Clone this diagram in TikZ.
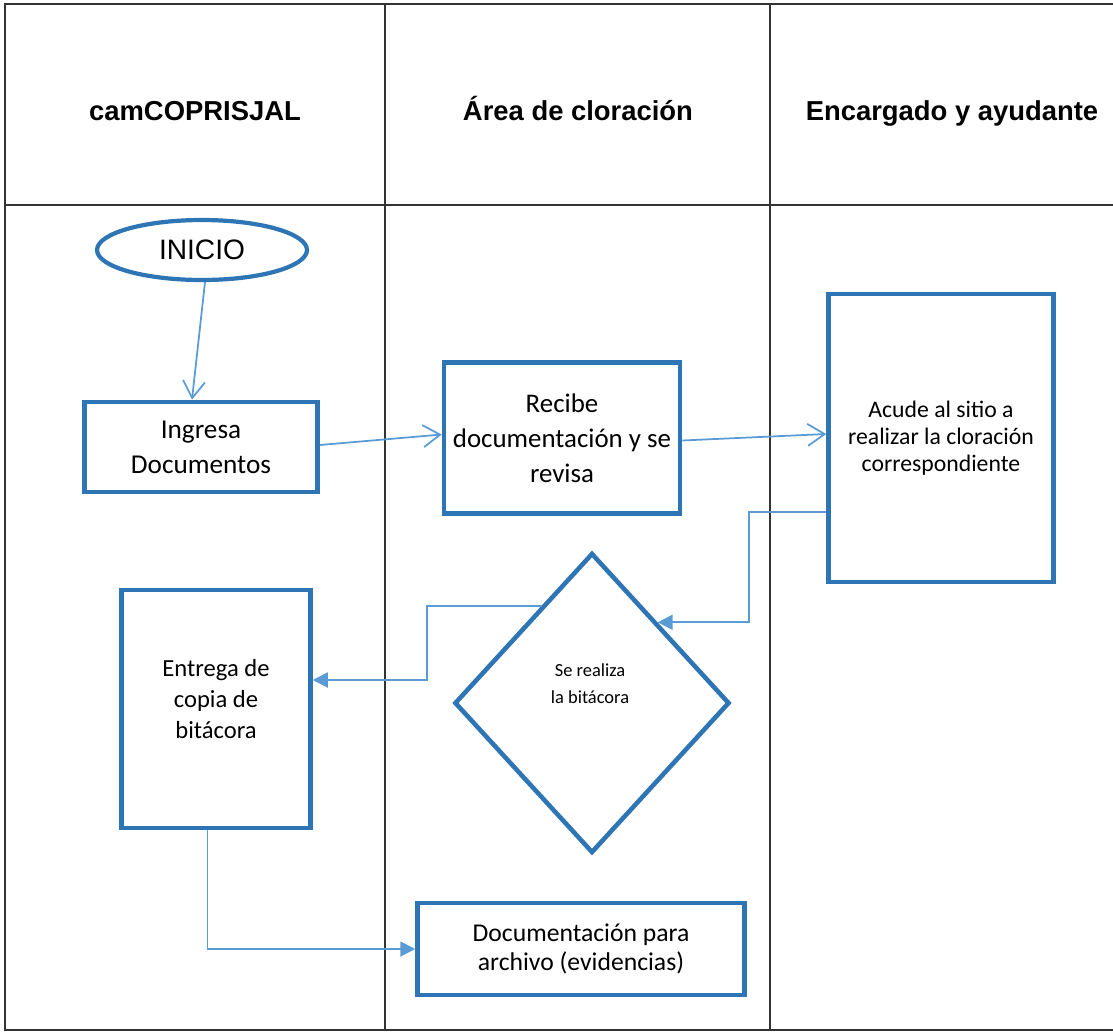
\documentclass[tikz,border=0pt]{standalone}
\usepackage{fontspec}
\setmainfont{Carlito}
\newfontfamily\headfont{Liberation Sans}
\usepackage{tikz}
\usetikzlibrary{shapes.geometric,arrows.meta,positioning,calc}

\definecolor{boxblue}{HTML}{2E75B6}
\definecolor{lineblue}{HTML}{5B9BD5}
\definecolor{gridgray}{HTML}{333333}

\tikzset{
  lane/.style={draw=gridgray, line width=0.8pt},
  lanehead/.style={anchor=base, font=\headfont\bfseries\fontsize{15.6}{19}\selectfont},
  procbox/.style={draw=boxblue, line width=2.6pt, fill=white, align=center, inner sep=0pt},
  flowopen/.style={draw=lineblue, line width=1pt, -{Straight Barb[length=3.4mm,width=4.4mm]}},
  flowfill/.style={draw=lineblue, line width=1.1pt, -{Triangle[length=3mm,width=3mm]}},
}

\begin{document}
\begin{tikzpicture}[x=0.02cm, y=-0.02cm]
    \useasboundingbox (0,0) rectangle (1113,1035);

    % swimlane table
    \draw[lane] (1113,4) -- (5,4) -- (5,1030) -- (1113,1030);
    \draw[lane] (5,205) -- (1113,205);
    \draw[lane] (385,4) -- (385,1030);
    \draw[lane] (770,4) -- (770,1030);

    % lane titles
    \node[lanehead] (h1) at (195,120) {camCOPRISJAL};
    \node[lanehead] (h2) at (578,120) {Área de cloración};
    \node[lanehead] (h3) at (952,120) {Encargado y ayudante};

    % start
    \node[ellipse, draw=boxblue, line width=2.4pt, minimum width=4.2cm, minimum height=1.2cm,
          font=\headfont\fontsize{16}{19}\selectfont] (ini) at (202,250) {INICIO};

    % process steps
    \node[procbox, minimum width=4.66cm, minimum height=1.8cm, font=\fontsize{15.5}{20}\selectfont]
        (ing) at (201,447) {Ingresa\\Documentos};
    \node[procbox, minimum width=4.72cm, minimum height=3.02cm, font=\fontsize{15.3}{19.8}\selectfont]
        (rec) at (562,438) {Recibe\\documentación y se\\revisa};
    \node[procbox, minimum width=4.5cm, minimum height=5.76cm, font=\fontsize{13.5}{15.5}\selectfont]
        (acu) at (941,438) {Acude al sitio a\\realizar la cloración\\correspondiente};
    \node[diamond, draw=boxblue, line width=2.6pt, minimum width=5.5cm, minimum height=6cm, inner sep=0pt]
        (dia) at (592,703) {};
    \node[align=center, font=\fontsize{10.5}{15.3}\selectfont] (diatxt) at (590,684) {Se realiza\\la bitácora};
    \node[procbox, minimum width=3.78cm, minimum height=4.76cm] (ent) at (216,709) {};
    \node[align=center, font=\fontsize{14}{17.8}\selectfont] (enttxt) at (216,699) {Entrega de\\copia de\\bitácora};
    \node[procbox, minimum width=6.54cm, minimum height=1.84cm, font=\fontsize{14.6}{17}\selectfont]
        (doc) at (581,949) {Documentación para\\archivo (evidencias)};

    % points on the diamond edges
    \coordinate (dne) at ($(dia.north)!0.47!(dia.east)$);
    \coordinate (dnw) at ($(dia.north)!0.36!(dia.west)$);

    % connectors
    \draw[flowopen] ([xshift=0.06cm]ini.south) -- ([xshift=-0.18cm]ing.north);
    \draw[flowopen] ([yshift=0.04cm]ing.east) -- ([yshift=0.07cm]rec.west);
    \draw[flowopen] ([yshift=-0.05cm]rec.east) -- ([yshift=0.08cm]acu.west);
    \draw[flowfill] ([yshift=-1.48cm]acu.west) -| ($(dne)+(1.82cm,0)$) -- (dne);
    \draw[flowfill] (dnw) -| ($(ent.east)+(2.28cm,0.58cm)$) -- ([yshift=0.58cm]ent.east);
    \draw[flowfill] ([xshift=-0.17cm]ent.south) |- (doc.west);
\end{tikzpicture}
\end{document}
